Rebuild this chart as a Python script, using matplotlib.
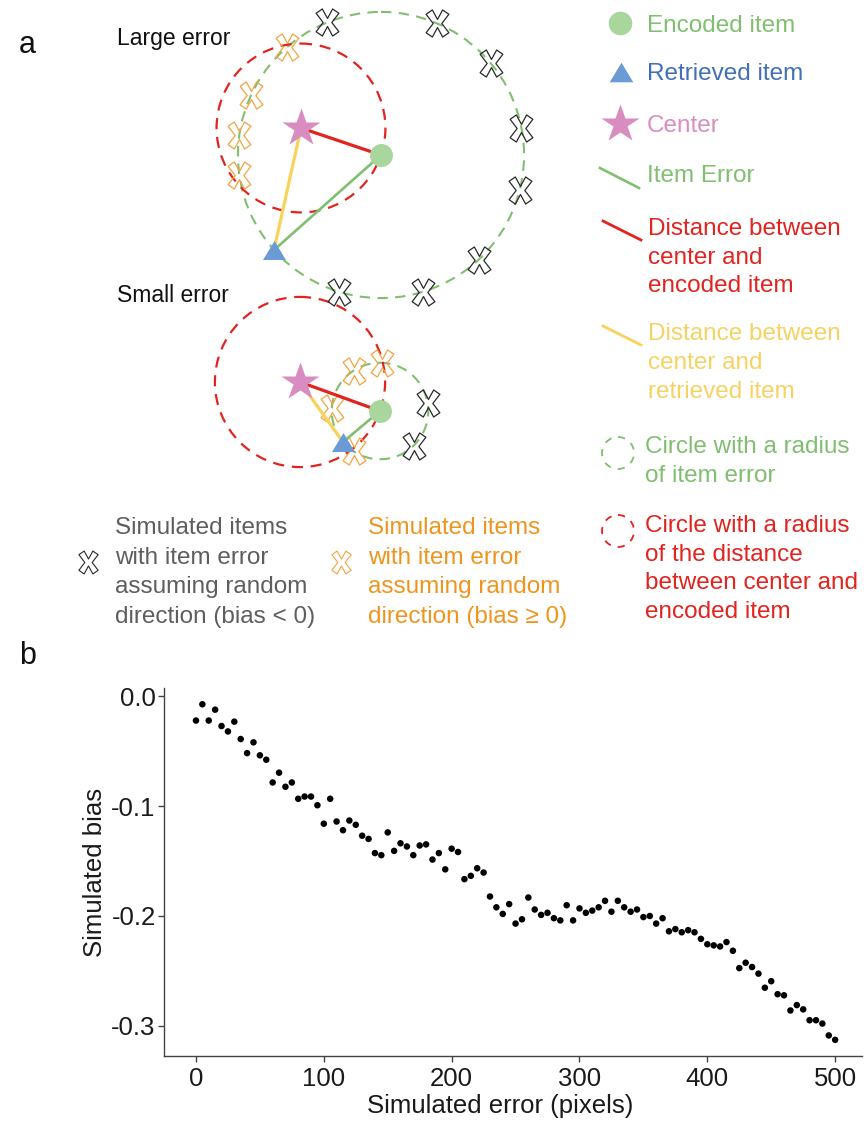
import math
import matplotlib
matplotlib.use("Agg")
import matplotlib.pyplot as plt
from matplotlib.patches import Circle
from matplotlib.path import Path

plt.rcParams['font.family'] = ['Liberation Sans', 'DejaVu Sans']

# ---------------- panel b: simulated bias vs simulated error ----------------
sim_error = [0, 5, 10, 15, 20, 25, 30, 35, 40, 45, 50, 55, 60, 65, 70, 75, 80, 85, 90, 95,
             100, 105, 110, 115, 120, 125, 130, 135, 140, 145, 150, 155, 160, 165, 170, 175,
             180, 185, 190, 195, 200, 205, 210, 215, 220, 225, 230, 235, 240, 245, 250, 255,
             260, 265, 270, 275, 280, 285, 290, 295, 300, 305, 310, 315, 320, 325, 330, 335,
             340, 345, 350, 355, 360, 365, 370, 375, 380, 385, 390, 395, 400, 405, 410, 415,
             420, 425, 430, 435, 440, 445, 450, 455, 460, 465, 470, 475, 480, 485, 490, 495, 500]
sim_bias = [-0.0223, -0.0075, -0.0223, -0.0124, -0.0273, -0.0322, -0.0233, -0.0391, -0.0519,
            -0.0421, -0.0539, -0.0579, -0.0786, -0.0697, -0.0825, -0.0786, -0.0934, -0.0914,
            -0.0914, -0.0993, -0.1161, -0.0934, -0.1141, -0.1220, -0.1132, -0.1171, -0.1270,
            -0.1299, -0.1428, -0.1447, -0.1240, -0.1408, -0.1339, -0.1368, -0.1447, -0.1359,
            -0.1349, -0.1487, -0.1428, -0.1576, -0.1388, -0.1418, -0.1665, -0.1635, -0.1566,
            -0.1605, -0.1823, -0.1921, -0.1981, -0.1892, -0.2069, -0.2030, -0.1832, -0.1941,
            -0.1990, -0.1971, -0.2020, -0.2040, -0.1902, -0.2040, -0.1931, -0.1971, -0.1951,
            -0.1921, -0.1862, -0.1961, -0.1862, -0.1921, -0.1961, -0.1941, -0.2010, -0.2000,
            -0.2069, -0.2020, -0.2139, -0.2119, -0.2148, -0.2129, -0.2148, -0.2208, -0.2257,
            -0.2267, -0.2277, -0.2237, -0.2316, -0.2474, -0.2425, -0.2464, -0.2524, -0.2652,
            -0.2593, -0.2711, -0.2721, -0.2859, -0.2810, -0.2849, -0.2948, -0.2948, -0.2978,
            -0.3086, -0.3126]
x_ticks = [0, 100, 200, 300, 400, 500]
y_ticks = [0.0, -0.1, -0.2, -0.3]
y_tick_labels = ['0.0', '-0.1', '-0.2', '-0.3']

# ------------- panel a: schematic trials (figure pixels, y downward) -------------
large_center = (301, 128)
large_encoded = (381, 155)
large_retrieved = (274, 250)
large_angles_neg = [112, 67, 40, 11, -14, -47, -73, -107]
large_angles_pos = [131, 155, 172, 188]

small_center = (300, 382)
small_encoded = (380, 411)
small_retrieved = (343, 442)
small_angles_neg = [9, -46]
small_angles_pos = [123, 88, 177, 237]

# colours
GREEN_FILL = '#a9d69c'
GREEN = '#80bf70'
BLUE_FILL = '#6a9bd5'
BLUE_TEXT = '#4270b8'
PINK = '#d98cc0'
RED = '#e2231e'
YELLOW_LINE = '#f8d35a'
YELLOW_TEXT = '#f6d263'
ORANGE = '#f2a540'
ORANGE_TEXT = '#ef951f'
GRAY_TEXT = '#5e5e5e'
FS = 17.5

# outlined "X" marker used for simulated items
_xv = [(0, 0.30), (0.38, 1.0), (0.84, 0.68), (0.32, 0.0), (0.84, -0.68), (0.38, -1.0),
       (0, -0.30), (-0.38, -1.0), (-0.84, -0.68), (-0.32, 0.0), (-0.84, 0.68), (-0.38, 1.0)]
X_MARK = Path(_xv + [_xv[0]], [Path.MOVETO] + [Path.LINETO] * 11 + [Path.CLOSEPOLY])
TRI_MARK = Path([(0, 0.83), (-1, -0.83), (1, -0.83), (0, 0.83)],
                [Path.MOVETO, Path.LINETO, Path.LINETO, Path.CLOSEPOLY])

fig = plt.figure(figsize=(8.64, 11.22), dpi=100)
axa = fig.add_axes([0, 0, 1, 1])
axa.set_xlim(0, 864)
axa.set_ylim(1122, 0)
axa.axis('off')


def dist(p, q):
    return math.hypot(p[0] - q[0], p[1] - q[1])


def draw_trial(C, E, R, ang_neg, ang_pos):
    r_err = dist(E, R)
    r_ce = dist(C, E)
    axa.add_patch(Circle(E, r_err, fill=False, ec=GREEN, lw=1.5, ls=(0, (5, 3.5)), zorder=1))
    axa.add_patch(Circle(C, r_ce, fill=False, ec=RED, lw=1.6, ls=(0, (5, 3.5)), zorder=1))
    for angs, col in ((ang_neg, '#2a2a2a'), (ang_pos, ORANGE)):
        for a in angs:
            t = math.radians(a)
            axa.plot(E[0] + r_err * math.cos(t), E[1] - r_err * math.sin(t), marker=X_MARK,
                     ms=19.5, mfc='none', mec=col, mew=0.9, zorder=2)
    axa.plot([C[0], E[0]], [C[1], E[1]], color=RED, lw=2.3, zorder=3, solid_capstyle='butt')
    axa.plot([C[0], R[0]], [C[1], R[1]], color=YELLOW_LINE, lw=2.3, zorder=3)
    axa.plot([E[0], R[0]], [E[1], R[1]], color=GREEN, lw=1.9, zorder=3)
    axa.plot(*E, marker='o', ms=16.5, mfc=GREEN_FILL, mec='none', zorder=4)
    axa.plot(*R, marker=TRI_MARK, ms=16.5, mfc=BLUE_FILL, mec='none', zorder=4)
    axa.plot(*C, marker='*', ms=29, mfc=PINK, mec='none', zorder=4)


def put_lines(x, y_first, lines, color, step=29.2, fs=FS):
    for i, s in enumerate(lines):
        axa.text(x, y_first + i * step + 8, s, color=color, fontsize=fs,
                 ha='left', va='baseline')


draw_trial(large_center, large_encoded, large_retrieved, large_angles_neg, large_angles_pos)
draw_trial(small_center, small_encoded, small_retrieved, small_angles_neg, small_angles_pos)

axa.text(117, 45, 'Large error', fontsize=16.5, color='#111111', va='baseline')
axa.text(117, 302, 'Small error', fontsize=16.5, color='#111111', va='baseline')
axa.text(19, 53, 'a', fontsize=22, color='#111111', va='baseline')
axa.text(19, 664, 'b', fontsize=22, color='#111111', va='baseline')

# legend on the right
axa.plot(620, 23, marker='o', ms=17, mfc=GREEN_FILL, mec='none')
put_lines(647, 24, ['Encoded item'], GREEN)
axa.plot(621, 72, marker=TRI_MARK, ms=17, mfc=BLUE_FILL, mec='none')
put_lines(647, 72, ['Retrieved item'], BLUE_TEXT)
axa.plot(620, 124, marker='*', ms=29, mfc=PINK, mec='none')
put_lines(647, 124, ['Center'], PINK)
axa.plot([600, 639], [168, 188], color=GREEN, lw=1.9)
put_lines(647, 174, ['Item Error'], GREEN)
axa.plot([603, 641], [221, 240], color=RED, lw=2.0)
put_lines(648, 227, ['Distance between', 'center and', 'encoded item'], RED, step=28.5)
axa.plot([603, 641], [326, 345], color=YELLOW_LINE, lw=2.0)
put_lines(648, 332, ['Distance between', 'center and', 'retrieved item'], YELLOW_TEXT, step=29)
axa.add_patch(Circle((618, 453), 16, fill=False, ec=GREEN, lw=1.3, ls=(0, (4, 4))))
put_lines(645, 445, ['Circle with a radius', 'of item error'], GREEN)
axa.add_patch(Circle((618, 531), 16, fill=False, ec=RED, lw=1.3, ls=(0, (4, 4))))
put_lines(645, 524, ['Circle with a radius', 'of the distance', 'between center and',
                     'encoded item'], RED, step=28.7)

# legend for simulated items
axa.plot(88, 562, marker=X_MARK, ms=16.5, mfc='none', mec='#2a2a2a', mew=0.8)
put_lines(115, 526, ['Simulated items', 'with item error', 'assuming random',
                     'direction (bias < 0)'], GRAY_TEXT, step=29.6)
axa.plot(341, 562, marker=X_MARK, ms=16.5, mfc='none', mec=ORANGE, mew=0.8)
put_lines(368, 526, ['Simulated items', 'with item error', 'assuming random',
                     'direction (bias \u2265 0)'], ORANGE_TEXT, step=29.6)

# ---------------- panel b axes ----------------
axb = fig.add_axes([164 / 864, 1 - 1056 / 1122, (862 - 164) / 864, (1056 - 688) / 1122])
axb.scatter(sim_error, sim_bias, s=22, color='black', edgecolors='none', zorder=3)
axb.set_xlim(-25, 521)
axb.set_ylim(-0.3273, 0.0073)
axb.set_xticks(x_ticks)
axb.set_yticks(y_ticks)
axb.set_yticklabels(y_tick_labels)
for side in ('top', 'right'):
    axb.spines[side].set_visible(False)
for side in ('left', 'bottom'):
    axb.spines[side].set_color('#444444')
    axb.spines[side].set_linewidth(1.0)
axb.tick_params(axis='both', direction='out', length=4, width=1.0, color='#444444',
                labelsize=18.5, labelcolor='#1a1a1a')
axb.tick_params(axis='x', pad=4)
axb.tick_params(axis='y', pad=2)
axb.set_xlabel('Simulated error (pixels)', fontsize=18.5, color='#1a1a1a')
axb.set_ylabel('Simulated bias', fontsize=18.5, color='#1a1a1a')
axb.xaxis.label.set_va('center')
axb.yaxis.label.set_va('center')
axb.xaxis.set_label_coords(0.481, -0.136)
axb.yaxis.set_label_coords(-0.099, 0.5)
axb.patch.set_alpha(0)

fig.savefig('out.png', dpi=100)
